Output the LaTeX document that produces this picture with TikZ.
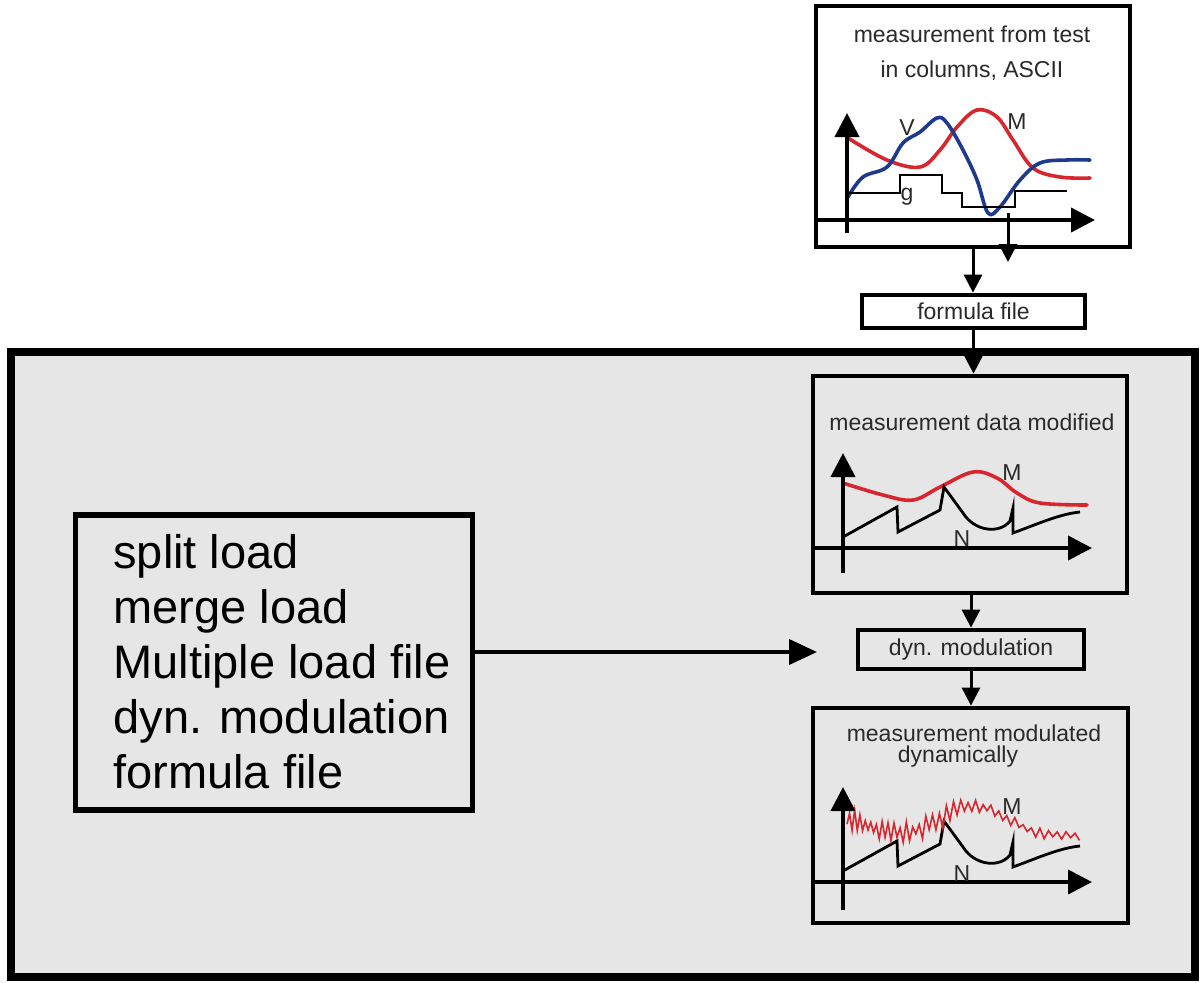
\documentclass[tikz,border=0pt]{standalone}
\usepackage{fontspec}
\setmainfont{Liberation Sans}
\usetikzlibrary{arrows.meta}
\definecolor{bg}{HTML}{E6E6E6}
\definecolor{cred}{HTML}{D8262E}
\definecolor{cblue}{HTML}{1E3A8C}
\definecolor{txt}{HTML}{2A2A2A}
\tikzset{
  frame/.style={draw=black, line width=2.4pt, inner sep=0pt},
  lbl/.style={text=txt, font=\fontsize{11.5}{14}\selectfont, inner sep=0pt},
  conn/.style={line width=1.5pt, -{Triangle[length=9pt,width=9pt]}},
  bigconn/.style={line width=2pt, -{Triangle[length=14pt,width=12.5pt]}},
  axis/.style={line width=2pt, -{Triangle[length=12pt,width=12pt]}},
  curve/.style={line width=1.8pt, line join=round, line cap=round},
  ncurve/.style={line width=1.4pt, line join=miter},
  noisy/.style={cred, line width=0.8pt, line join=miter},
}
\begin{document}
\begin{tikzpicture}[x=0.5pt,y=-0.5pt]
\useasboundingbox (0,0) rectangle (1201,982);
\fill[white] (0,0) rectangle (1201,982);
\pgfmathsetseed{7}

% outer grey panel
\node[frame, line width=4pt, fill=bg, minimum width=592pt, minimum height=312.5pt] (outer) at (603,664.5) {};

% top box
\node[frame, fill=white, minimum width=157pt, minimum height=120.5pt] (top) at (973,126.5) {};
\node[lbl, align=center, font=\fontsize{11.5}{17.5}\selectfont] (toptxt) at (972,53) {measurement from test\\in columns, ASCII};
\draw[cred, curve] plot[smooth, tension=0.6] coordinates {(848,138) (887,160) (920,167) (940,150) (957,127) (977,110) (997,117) (1013,140) (1033,168) (1060,177) (1090,178)};
\draw[cblue, curve] plot[smooth, tension=0.6] coordinates {(848,197) (863,177) (887,167) (903,143) (920,132) (937,118) (947,123) (963,150) (977,180) (988,213) (1000,207) (1020,180) (1040,163) (1067,160) (1090,160)};
\draw[line width=1.4pt] (848,193) -- (900,193) -- (900,175) -- (942,175) -- (942,193) -- (962,193) -- (962,207) -- (1015,207) -- (1015,191) -- (1067,191);
\draw[axis] (847,233) -- (847,113);
\draw[axis] (815,220) -- (1095,220);
\draw[conn] (1008,213) -- (1008,262);
\node[lbl] (lV) at (907,128) {V};
\node[lbl] (lM1) at (1017,122) {M};
\node[lbl] (lg) at (907,197) {g};

% formula file
\node[frame, fill=white, minimum width=111.5pt, minimum height=16.5pt] (formula) at (973.5,311.5) {};
\node[lbl] (formulatxt) at (formula) {formula file};

% middle box
\node[frame, minimum width=157pt, minimum height=108.5pt] (middle) at (970,484.5) {};
\node[lbl] (midtxt) at (972,422) {measurement data modified};
\draw[cred, curve] plot[smooth, tension=0.6] coordinates {(843,483) (883,495) (913,500) (940,487) (973,472) (997,478) (1017,493) (1040,503) (1087,505)};
\draw[ncurve] (843,537) -- (897,507) -- (898,532) -- (940,510) -- (944,487) -- (963,513) .. controls (975,532) and (1000,534) .. (1010,521) -- (1013,508) -- (1013,533) .. controls (1040,523) and (1060,514) .. (1080,512);
\draw[axis] (843,573) -- (843,453);
\draw[axis] (815,548) -- (1092,548);
\node[lbl] (lM2) at (1012,473) {M};
\node[lbl] (lN2) at (962,539) {N};

% dyn. modulation box
\node[frame, minimum width=113pt, minimum height=19.5pt] (dyn) at (971,649.5) {};
\node[lbl] (dyntxt) at (dyn) {dyn. modulation};

% bottom box
\node[frame, minimum width=157.5pt, minimum height=107.5pt] (bottom) at (970.5,815.5) {};
\node[lbl] (bottxt1) at (974,733) {measurement modulated};
\node[lbl] (bottxt2) at (958,757) {dynamically};
\begin{scope}[yshift=-167pt]
\draw[ncurve] (843,537) -- (897,507) -- (898,532) -- (940,510) -- (944,487) -- (963,513) .. controls (975,532) and (1000,534) .. (1010,521) -- (1013,508) -- (1013,533) .. controls (1040,523) and (1060,514) .. (1080,512);
\end{scope}
\draw[noisy] plot[domain=0:66, samples=67, variable=\k]
  ({847+2.5*\k+0.0155*\k*\k},
   {836 - 30*exp(-((847+2.5*\k+0.0155*\k*\k-975)/45)^2) - 16*exp(max(-9,-((2.5*\k)/30)^2)) + cos(180*\k)*(3+8*rnd)*(1-0.45*(\k>38))});
\draw[axis] (843,910) -- (843,787);
\draw[axis] (815,882) -- (1092,882);
\node[lbl] (lM3) at (1012,807) {M};
\node[lbl] (lN3) at (962,874) {N};

% left box
\node[frame, line width=2.7pt, minimum width=198.5pt, minimum height=147.5pt] (left) at (274,662.5) {};
\node[anchor=west, align=left, inner sep=0pt, font=\fontsize{23.5}{27.5}\selectfont] (lefttxt) at (113,662) {split load\\merge load\\Multiple load file\\dyn. modulation\\formula file};

% connectors
\coordinate (tip) at (817,652);
\draw[conn] (top.south) -- (top.south |- formula.north);
\draw[conn] (formula.south) -- (formula.south |- middle.north);
\draw[conn] (middle.south -| dyn.north) -- (dyn.north);
\draw[conn] (dyn.south) -- (dyn.south |- bottom.north);
\draw[bigconn] (left.east |- tip) -- (tip);
\end{tikzpicture}
\end{document}
